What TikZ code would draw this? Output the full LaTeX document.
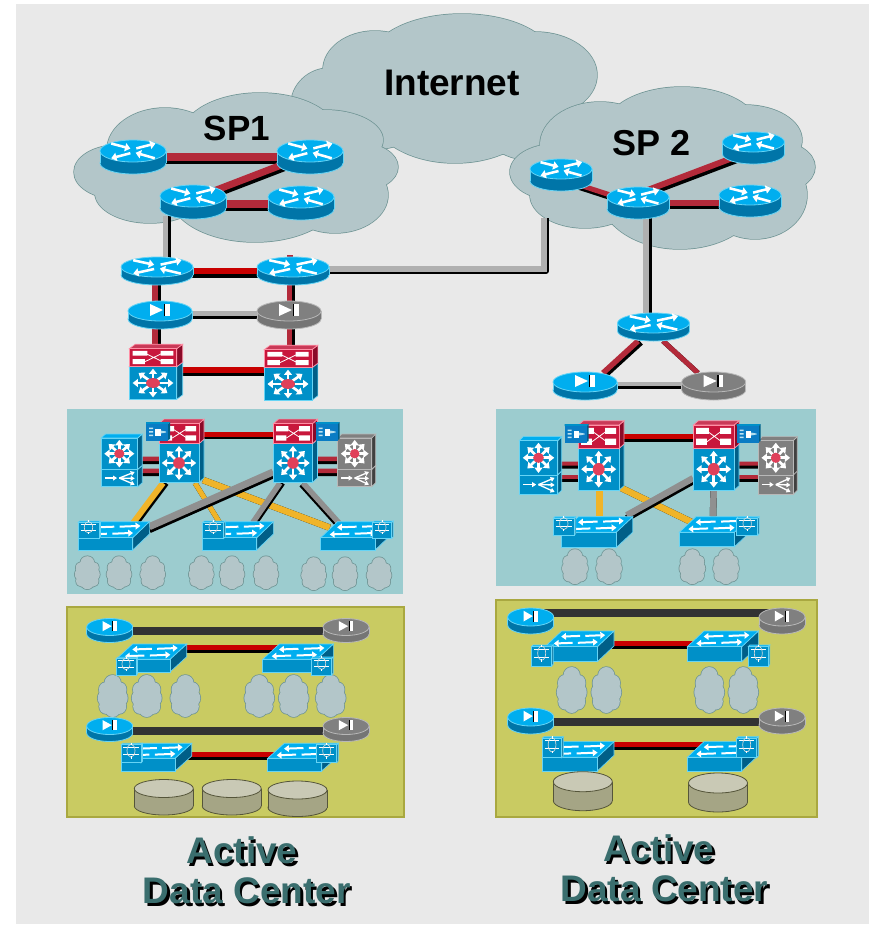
\documentclass[tikz,border=0pt]{standalone}
\usepackage{fontspec}
\setmainfont{Liberation Sans}
\usetikzlibrary{calc,arrows.meta}
\definecolor{bgc}{HTML}{E9E9E9}
\definecolor{cldf}{HTML}{B3C6C9}
\definecolor{cldl}{HTML}{6F9494}
\definecolor{teal}{HTML}{9CCCCF}
\definecolor{oliv}{HTML}{C9CB62}
\definecolor{olivl}{HTML}{A9A840}
\definecolor{topb}{HTML}{00AEEF}
\definecolor{botb}{HTML}{0075A8}
\definecolor{rimb}{HTML}{66D4F5}
\definecolor{topg}{HTML}{808080}
\definecolor{botg}{HTML}{757575}
\definecolor{rimg}{HTML}{B8B8B8}
\definecolor{dtop}{HTML}{C9C9B5}
\definecolor{dbot}{HTML}{A5A585}
\definecolor{drim}{HTML}{55553A}
\definecolor{lred}{HTML}{B32A3A}
\definecolor{bred}{HTML}{C80000}
\definecolor{lgra}{HTML}{B0B0B0}
\definecolor{mgra}{HTML}{909090}
\definecolor{lyel}{HTML}{F0B429}
\definecolor{ldrk}{HTML}{333333}
\definecolor{redF}{HTML}{C8173C}
\definecolor{redS}{HTML}{8A0A28}
\definecolor{redT}{HTML}{C93A58}
\definecolor{rimr}{HTML}{FF8FA5}
\definecolor{blF}{HTML}{0090C8}
\definecolor{blS}{HTML}{005F88}
\definecolor{blT}{HTML}{00AEEF}
\definecolor{grF}{HTML}{7F7F7F}
\definecolor{grS}{HTML}{404040}
\definecolor{grT}{HTML}{808080}
\definecolor{stred}{HTML}{E0405A}
\definecolor{ttl}{HTML}{3A6E6E}
\definecolor{svcF}{HTML}{0A7CC4}
\tikzset{
  cloudl/.style={draw=cldl,line width=1.1pt,fill=cldf},
  cloudf/.style={fill=cldf},
  rarr/.style={white,line width=1.9pt,-{Triangle[length=4pt,width=6.2pt]}},
  sarr/.style={white,line width=2pt,-{Triangle[length=4pt,width=6pt]}},
  warr/.style={white,line width=1.5pt,-{Triangle[length=3.6pt,width=5pt]}},
  farr/.style={white,line width=1pt,-{Triangle[length=3pt,width=3.6pt]}},
  head/.style={font=\fontsize{27.75pt}{30pt}\selectfont\bfseries,anchor=base,text=black,inner sep=0pt},
  title/.style={font=\fontsize{27.75pt}{30pt}\selectfont\bfseries,anchor=base,text=ttl,inner sep=0pt},
  titles/.style={font=\fontsize{27.75pt}{30pt}\selectfont\bfseries,anchor=base,text=black,inner sep=0pt},
}
% big / small clouds: outlined ellipses, then the same ellipses filled over the inner lines
\newcommand\bcloud[1]{%
  \foreach \qx/\qy/\qa/\qb in {#1}{\path[cloudl] (\qx,\qy) ellipse [x radius=\qa,y radius=\qb];}
  \foreach \qx/\qy/\qa/\qb in {#1}{\path[cloudf] (\qx,\qy) ellipse [x radius=\qa,y radius=\qb];}
}
\newcommand\scl[3]{\begin{scope}[shift={(#1)},xscale=#2,yscale=#3]
  \bcloud{0/-.62/.55/.38,-.5/-.3/.42/.35,.5/-.3/.42/.35,-.62/.1/.38/.35,.62/.1/.38/.35,-.45/.5/.45/.35,.45/.5/.45/.35,0/.65/.5/.35,0/0/.8/.7}
\end{scope}}
% connector: black copy shifted, coloured line on top
\newcommand\lnk[7]{%
  \draw[black,line width=0.75*#6pt] ($(#1)+(#2)+(#7)$) -- ($(#3)+(#4)+(#7)$);
  \draw[#5,line width=0.75*#6pt] ($(#1)+(#2)$) -- ($(#3)+(#4)$);
}
% cylinder: name rx ry h top body rim
\newcommand\cyl[7]{\begin{scope}[shift={(#1)}]
  \filldraw[draw=#7,fill=#6,line width=.6pt] (0,#4) ellipse [x radius=#2,y radius=#3];
  \fill[#6] (-#2,0) rectangle (#2,#4);
  \draw[#7,line width=.6pt] (-#2,0) -- (-#2,#4) (#2,0) -- (#2,#4);
  \filldraw[draw=#7,fill=#5,line width=.6pt] (0,0) ellipse [x radius=#2,y radius=#3];
\end{scope}}
\newcommand\rtr[4]{\cyl{#1}{#2}{#3}{#4}{topb}{botb}{rimb}
 \begin{scope}[shift={(#1)},xscale=#2,yscale=#3]
  \draw[rarr] (-.66,-.68) -- (-.08,-.22);
  \draw[rarr] (.1,-.24) -- (.68,-.68);
  \draw[rarr] (-.08,.2) -- (-.66,.66);
  \draw[rarr] (.66,.66) -- (.08,.16);
 \end{scope}}
\newcommand\fwicon[3]{\begin{scope}[shift={(#1)},xscale={#2/32},yscale={#3/10}]
  \fill[white] (-10,-7) -- (3,-1) -- (-10,5) -- cycle;
  \fill[black] (3.5,-7) rectangle (5,5);
  \fill[white] (5,-7) rectangle (9.5,5);
 \end{scope}}
\newcommand\fwb[4]{\cyl{#1}{#2}{#3}{#4}{topb}{botb}{rimb}\fwicon{#1}{#2}{#3}}
\newcommand\fwg[4]{\cyl{#1}{#2}{#3}{#4}{topg}{botg}{rimg}\fwicon{#1}{#2}{#3}}
\newcommand\dsk[4]{\cyl{#1}{#2}{#3}{#4}{dtop}{dbot}{drim}}
% cube: x y w h d e front side top ; rim in \rimc
\newcommand\cube[9]{%
  \filldraw[draw=\rimc,fill=#8,line width=.5pt] (#1,#2) ++(#3,0) -- ++(#5,-#6) -- ++(0,#4) -- ++(-#5,#6) -- cycle;
  \filldraw[draw=\rimc,fill=#9,line width=.5pt] (#1,#2) -- ++(#3,0) -- ++(#5,-#6) -- ++(-#3,0) -- cycle;
  \filldraw[draw=\rimc,fill=#7,line width=.5pt] (#1,#2) -- ++(#3,0) -- ++(0,#4) -- ++(-#3,0) -- cycle;
}
\newcommand\staric[4]{\begin{scope}[shift={(#1,#2)},xscale=#3,yscale=#4]
  \foreach \an in {0,45,...,315}{\draw[sarr] ({.3*cos(\an)},{.3*sin(\an)}) -- ({cos(\an)},{sin(\an)});}
  \fill[stred] (0,0) ellipse [x radius=.34,y radius=.34];
\end{scope}}
% core: red crossbar unit above a blue star unit; origin = centre of blue unit
\newcommand\catstack[6]{\begin{scope}[shift={(#1)}]
  \pgfmathsetmacro\xl{-#2/2}\pgfmathsetmacro\yb{-#3/2}\pgfmathsetmacro\yr{-#3/2-#4}
  \def\rimc{rimb}\cube{\xl}{\yb}{#2}{#3}{#5}{#6}{blF}{blS}{blS}
  \def\rimc{rimr}\cube{\xl}{\yr}{#2}{#4}{#5}{#6}{redF}{redS}{redT}
  \begin{scope}[shift={(\xl,\yr)},xscale=#2,yscale=#4]
    \fill[white] (.07,.12) rectangle (.38,.38) (.66,.12) rectangle (.93,.38) (.07,.58) rectangle (.33,.85) (.66,.58) rectangle (.93,.85);
    \draw[white,line width=.6pt] (.33,.25) -- (.7,.72) (.33,.72) -- (.7,.25);
  \end{scope}
  \staric{0}{0}{{.43*#2}}{{.44*#3}}
\end{scope}}
% side stack: star unit above a fan unit; origin = centre of star unit; colours \cF \cS \cT \cR
\newcommand\svcstack[6]{\begin{scope}[shift={(#1)}]
  \pgfmathsetmacro\xl{-#2/2}\pgfmathsetmacro\yt{-#3/2}\pgfmathsetmacro\ym{#3/2}
  \def\rimc{\cR}\cube{\xl}{\ym}{#2}{#4}{#5}{#6}{\cF}{\cS}{\cS}
  \cube{\xl}{\yt}{#2}{#3}{#5}{#6}{\cF}{\cS}{\cT}
  \staric{0}{0}{{.41*#2}}{{.44*#3}}
  \begin{scope}[shift={(\xl,\ym)},xscale=#2,yscale=#4]
    \draw[farr] (.1,.5) -- (.44,.5);
    \draw[farr] (.5,.5) -- (.92,.15);
    \draw[farr] (.5,.5) -- (.92,.52);
    \draw[farr] (.5,.5) -- (.92,.88);
  \end{scope}
\end{scope}}
% blue service module
\newcommand\svcm[1]{\begin{scope}[shift={(#1)}]
  \fill[blS] (10,-7) -- (12,-9) -- (12,8) -- (10,9) -- cycle;
  \fill[blF] (-12,-9) -- (-10,-9) -- (12,-9) -- (10,-7) -- (-12,-7) -- cycle;
  \fill[svcF] (-12,-7.5) rectangle (10,9.5);
  \fill[white!75!blF] (-9,-3.5) rectangle (-5,-2) (-9,0) rectangle (-5,1.5) (-9,3.5) rectangle (-5,5);
  \fill[white] (-3,-2.5) rectangle (2.5,4.5);
  \fill[white!70!blF] (2.5,-.5) -- (8,.5) -- (8,1.5) -- (2.5,2.5) -- cycle;
\end{scope}}
% workgroup switch: name w h d e ; origin = top-left of front
\newcommand\wgs[5]{\begin{scope}[shift={(#1)}]
  \def\rimc{rimb}\cube{0}{0}{#2}{#3}{#4}{#5}{blF}{blS}{blT}
  \foreach \tt in {.28,.72}{
    \draw[warr] ({\tt*#4+.44*#2},{-\tt*#5+.5}) -- ({\tt*#4+.08*#2},{-\tt*#5+1.2});
    \draw[warr] ({\tt*#4+.54*#2},{-\tt*#5+.5}) -- ({\tt*#4+.92*#2},{-\tt*#5-.3});
  }
\end{scope}}
% small firewall module on a switch: x y w h
\newcommand\modu[4]{\begin{scope}[shift={(#1,#2)}]
  \def\rimc{rimb}\cube{0}{1.5}{#3}{#4}{1.5}{1.5}{blF}{blS}{blT}
  \begin{scope}[yshift=1.5,xscale=#3,yscale=#4]
    \draw[white,line width=.8pt] (.12,.32) -- (.88,.32) (.12,.72) -- (.88,.72);
    \draw[white!70!gray,line width=.5pt] (.5,.52) ellipse [x radius=.2,y radius=.36];
    \draw[white,line width=.5pt] (.5,.08) -- (.5,.2) (.5,.84) -- (.5,.96);
  \end{scope}
\end{scope}}
\begin{document}
\begin{tikzpicture}[x=0.75pt,y=-0.75pt]
\useasboundingbox (0,0) rectangle (871,925);
\fill[white] (0,0) rectangle (871,925);
\fill[bgc] (16,4) rectangle (869,924);
% device positions
\coordinate (sa) at (133,151); \coordinate (sb) at (310,151); \coordinate (sc) at (193,196); \coordinate (sd) at (301,197);
\coordinate (ra) at (157,267); \coordinate (rb) at (293,267);
\coordinate (fa) at (160,311); \coordinate (fb) at (289,311);
\coordinate (ca) at (153,383); \coordinate (cb) at (288,384);
\coordinate (pa) at (179,463); \coordinate (pb) at (293,463);
\coordinate (sl) at (119.3,453.7); \coordinate (sr) at (354.7,453.7);
\coordinate (wa) at (78.3,537.7); \coordinate (wb) at (202.7,537.7); \coordinate (wc) at (320.7,537.7);
\coordinate (ka) at (561,169); \coordinate (kb) at (638,197); \coordinate (kc) at (753.5,142); \coordinate (kd) at (750,195);
\coordinate (re) at (653.5,323); \coordinate (fc) at (585,382); \coordinate (fd) at (713.7,382);
\coordinate (qa) at (598.7,469.2); \coordinate (qb) at (713.7,469.2);
\coordinate (tl) at (538.5,457.8); \coordinate (tr) at (775.8,457.8);
\coordinate (wd) at (561.7,532.3); \coordinate (we) at (679.3,532.3);
\coordinate (ua) at (109.7,627); \coordinate (ub) at (346,627); \coordinate (uc) at (109.7,726); \coordinate (ud) at (346,726);
\coordinate (xa) at (116,659.3); \coordinate (xb) at (262.7,659.3); \coordinate (xc) at (121,758.3); \coordinate (xd) at (267.7,758.3);
\coordinate (ga) at (530.7,617); \coordinate (gb) at (782,617); \coordinate (gc) at (530.7,717); \coordinate (gd) at (782,717);
\coordinate (ya) at (545,646.7); \coordinate (yb) at (687.3,646.7); \coordinate (yc) at (542.3,757.3); \coordinate (yd) at (687.3,757.3);
\coordinate (bend) at (543.5,268.5); \coordinate (spedge) at (543.5,218);
% clouds
\bcloud{462/58/90/44,375/70/52/39,330/105/39/37,370/115/55/35,455/110/85/53,535/75/62/43,530/120/50/40}
\bcloud{260/135/78/42,165/150/58/42,118/172/44/27,150/193/55/30,255/195/85/47,335/195/53/38,360/167/38/24,325/140/58/30,240/170/110/50}
\bcloud{682/130/78/43,600/145/60/43,555/172/45/28,585/195/55/33,680/195/80/54,755/195/52/44,775/167/40/26,745/140/57/35,670/170/100/50}
% panels
\fill[teal] (67,409) rectangle (403,594);
\fill[teal] (496,409) rectangle (816,586);
\filldraw[draw=olivl,fill=oliv,line width=1.5pt] (67,607) rectangle (403.5,817);
\filldraw[draw=olivl,fill=oliv,line width=1.5pt] (496,600) rectangle (817,816.5);
% small clouds
\foreach \n/\px/\py in {a/87.3/572.7,b/119/572.7,c/152.7/572.7,d/201.3/572.7,e/232/572.7,f/266/572.7,g/313.7/573.7,h/345/573.7,i/379/573.7}{
  \coordinate (cla\n) at (\px,\py); \scl{cla\n}{12.5}{16.5}}
\foreach \n/\px/\py in {a/575/566.7,b/609/566.7,c/692.3/566.7,d/726/566.7}{
  \coordinate (clb\n) at (\px,\py); \scl{clb\n}{13}{17.5}}
\foreach \n/\px/\py in {a/112.7/696,b/146.7/696,c/185.3/696,d/259.3/696,e/293.7/696,f/330.7/696}{
  \coordinate (clc\n) at (\px,\py); \scl{clc\n}{15}{21}}
\foreach \n/\px/\py in {a/571.7/690,b/606.3/690,c/709.3/690,d/743.3/690}{
  \coordinate (cld\n) at (\px,\py); \scl{cld\n}{15}{23}}
% links: SP1 and left edge
\lnk{sa}{0,6}{sb}{0,6}{lred}{8}{0,3}
\lnk{sb}{0,3}{sc}{0,3}{lred}{7}{2,3}
\lnk{sc}{0,8}{sd}{0,7}{lred}{8}{0,2.5}
\lnk{sc}{-27.5,20}{ra}{8.5,-5}{lgra}{5.5}{3,0}
\lnk{ra}{0,4}{rb}{0,4}{bred}{6}{0,3.5}
\lnk{ra}{-2.5,5}{fa}{-5.5,0}{lred}{6}{3,0}
\lnk{fa}{-5.5,5}{ca}{1.5,-20}{lred}{6}{3,0}
\lnk{rb}{-3.5,5}{fb}{.5,0}{lred}{5}{3,0}
\lnk{fb}{.5,5}{cb}{1.5,-20}{lred}{5}{3,0}
\lnk{fa}{0,2.5}{fb}{0,2.5}{lgra}{5}{0,3}
\lnk{ca}{0,-13}{cb}{0,-14}{bred}{6}{0,3}
\draw[black,line width=4.5pt,line join=round] ($(rb)+(0,1.5)+(2.5,2.5)$) -- ($(bend)+(2.5,2.5)$) -- ($(spedge)+(2.5,0)$);
\draw[lgra,line width=4.5pt] ($(rb)+(0,1.5)$) -- (bend) -- (spedge);
\fill[lred] ($(rb)+(-6,-12)$) rectangle ($(rb)+(0,-10)$);
% links: first teal panel
\lnk{pa}{0,-29}{pb}{0,-29}{bred}{5}{0,2.5}
\lnk{sl}{0,5}{pa}{0,-4}{lred}{4.5}{0,3}
\lnk{sl}{0,17}{pa}{0,8}{lred}{4.5}{0,3}
\lnk{pb}{0,-4}{sr}{0,5}{lred}{4.5}{0,3}
\lnk{pb}{0,8}{sr}{0,17}{lred}{4.5}{0,3}
\lnk{pa}{-16,20}{wa}{55,-15}{lyel}{6}{3,0}
\lnk{pa}{16,20}{wb}{17,-15}{lyel}{5}{0,0}
\lnk{pa}{24,17}{wc}{9,-10}{lyel}{6.5}{0,0}
\lnk{pb}{-20,9}{wa}{71,-11}{mgra}{7}{0,3}
\lnk{pb}{-13,20}{wb}{50,-15}{mgra}{5.5}{2.5,0}
\lnk{pb}{10,20}{wc}{19,-14}{mgra}{5.5}{-1.5,1.5}
% links: SP2 and right edge
\lnk{ka}{0,10}{kb}{0,7}{lred}{5}{0,2.5}
\lnk{kb}{0,-3.3}{kc}{0,8}{lred}{6}{2,3}
\lnk{kb}{0,6}{kd}{0,8}{lred}{6}{2,3}
\lnk{kb}{8,10}{re}{-7.5,-5}{lgra}{5.5}{3,0}
\lnk{re}{-15.5,18}{fc}{18,-9}{lred}{5.5}{3,1.5}
\lnk{re}{9.5,18}{fd}{-15.7,-9}{lred}{5}{0,0}
\lnk{fc}{0,2}{fd}{0,2}{lgra}{4.5}{0,3}
% links: second teal panel
\lnk{qa}{0,-33.2}{qb}{0,-33.2}{bred}{5}{0,3}
\lnk{tl}{0,5.7}{qa}{0,-5.7}{lred}{4}{0,3}
\lnk{tl}{0,19}{qa}{0,7.6}{lred}{4}{0,3}
\lnk{qb}{0,-5.7}{tr}{0,5.7}{lred}{4}{0,3}
\lnk{qb}{0,7.6}{tr}{0,19}{lred}{4}{0,3}
\lnk{qa}{.8,21}{wd}{37.8,-16}{lyel}{6.5}{0,0}
\lnk{qb}{0,21}{we}{33.7,-16}{mgra}{6.5}{0,0}
\lnk{qa}{21,18}{we}{12.7,-10}{lyel}{6.5}{0,0}
\lnk{qb}{-20.7,9}{wd}{65,-17}{mgra}{6.5}{0,3}
% links: olive panels
\lnk{ua}{0,4}{ub}{0,4}{ldrk}{8}{0,0}
\lnk{xa}{60,-11.5}{xb}{20,-11.5}{bred}{5}{0,3}
\lnk{uc}{0,4.5}{ud}{0,4.5}{ldrk}{8}{0,0}
\lnk{xc}{60,-4}{xd}{20,-4}{bred}{5}{0,3}
\lnk{ga}{0,-4}{gb}{0,-4}{ldrk}{8}{0,0}
\lnk{ya}{60,-3.2}{yb}{20,-3.2}{bred}{5}{0,3}
\lnk{gc}{0,4.7}{gd}{0,4.7}{ldrk}{8}{0,0}
\lnk{yc}{60,-13}{yd}{20,-13}{bred}{5}{0,3}
% routers and firewalls
\rtr{sa}{33}{11}{12}\rtr{sb}{33}{11}{12}\rtr{sc}{33}{11}{12}\rtr{sd}{33}{11}{12}
\rtr{ra}{36}{10}{8}\rtr{rb}{36}{10}{8}
\fwb{fa}{32}{10}{8}\fwg{fb}{32}{10}{8}
\rtr{ka}{31}{10}{12}\rtr{kb}{31}{10}{12}\rtr{kc}{31}{10}{12}\rtr{kd}{31}{10}{12}
\rtr{re}{36}{10}{8}
\fwb{fc}{32}{10}{8}\fwg{fd}{32}{10}{8}
% chassis stacks
\catstack{ca}{47.4}{32.6}{18}{6}{4.5}
\catstack{cb}{47.7}{32.6}{18}{6}{4.5}
\def\cF{blF}\def\cS{blS}\def\cT{blT}\def\cR{rimb}
\svcstack{sl}{36.7}{31.3}{17.4}{4.6}{4}
\svcstack{tl}{38.4}{34.3}{19.3}{4}{4}
\def\cF{grF}\def\cS{grS}\def\cT{grT}\def\cR{rimg}
\svcstack{sr}{34}{31.3}{17.4}{4}{4}
\svcstack{tr}{35}{34.3}{19.3}{4}{4}
\catstack{pa}{40}{38.7}{20}{5}{4.5}
\catstack{pb}{39}{38.7}{20}{5}{4.5}
\catstack{qa}{40.7}{41.7}{23.3}{5}{4.3}
\catstack{qb}{40.7}{41.7}{23.3}{5}{4.3}
\coordinate (sma) at (158,431); \coordinate (smb) at (327.5,431); \coordinate (smc) at (576.5,433); \coordinate (smd) at (748.5,433);
\svcm{sma}\svcm{smb}\svcm{smc}\svcm{smd}
% workgroup switches and modules
\wgs{wa}{54.4}{12.3}{16.7}{16}\modu{78}{521}{21}{16}
\wgs{wb}{54}{12.3}{16.7}{16}\modu{202.7}{521}{21}{16}
\wgs{wc}{54.4}{12.3}{16.7}{16}\modu{372.7}{521}{19}{16}
\wgs{wd}{54.4}{15.4}{16.7}{15.6}\modu{553.3}{516.7}{21}{17}
\wgs{we}{55}{14.5}{16.7}{15.6}\modu{736.7}{516.7}{21}{17}
\fwb{ua}{23}{8.5}{7}\fwg{ub}{23}{8.5}{7}\fwb{uc}{23}{8.5}{7}\fwg{ud}{23}{8.5}{7}
\wgs{xa}{54}{12.7}{16.7}{15.3}\modu{116}{657.3}{20}{16.5}
\wgs{xb}{54}{12.7}{16.7}{15.3}\modu{311.7}{657}{20}{16.5}
\wgs{xc}{54}{12.7}{16.7}{15}\modu{121}{743.3}{20}{18}
\wgs{xd}{54}{12.7}{16.7}{15}\modu{316.7}{743.3}{20}{18}
\fwb{ga}{23}{9}{8}\fwg{gb}{23}{9}{8}\fwb{gc}{23}{9}{8}\fwg{gd}{23}{9}{8}
\wgs{ya}{52.3}{15}{16.7}{15.7}\modu{531.7}{645}{20}{19.5}
\wgs{yb}{54.4}{15}{16.7}{15.7}\modu{748.3}{645}{20}{19.5}
\wgs{yc}{55}{13.7}{16.7}{15.7}\modu{542.3}{736.7}{19.5}{19.5}
\wgs{yd}{54.4}{13.7}{16.7}{15.7}\modu{736.7}{736.7}{20}{19.5}
% disks
\coordinate (dka) at (163.8,788.5); \coordinate (dkb) at (231.7,788.5); \coordinate (dkc) at (297.5,790);
\coordinate (dkd) at (582.8,781.7); \coordinate (dke) at (718,783);
\dsk{dka}{29.5}{9}{17.5}\dsk{dkb}{29.5}{9}{17.5}\dsk{dkc}{29.5}{9}{17.5}
\dsk{dkd}{29.5}{10}{19}\dsk{dke}{29.5}{10}{19}
% labels
\node[head] (tint) at (452,95) {Internet};
\node[head,font=\fontsize{26.25pt}{30pt}\selectfont\bfseries] (tspa) at (237,140) {SP1};
\node[head,font=\fontsize{27pt}{30pt}\selectfont\bfseries] (tspb) at (652,155) {SP 2};
\node[titles] (sha) at (244.5,866) {Active};
\node[titles] (shb) at (249.2,906) {Data Center};
\node[titles] (shc) at (661.5,864.7) {Active};
\node[titles] (shd) at (667,904.7) {Data Center};
\node[title] (tla) at (242,863) {Active};
\node[title] (tlb) at (246.7,903) {Data Center};
\node[title] (tlc) at (659,861.7) {Active};
\node[title] (tld) at (664.5,901.7) {Data Center};
\end{tikzpicture}
\end{document}
